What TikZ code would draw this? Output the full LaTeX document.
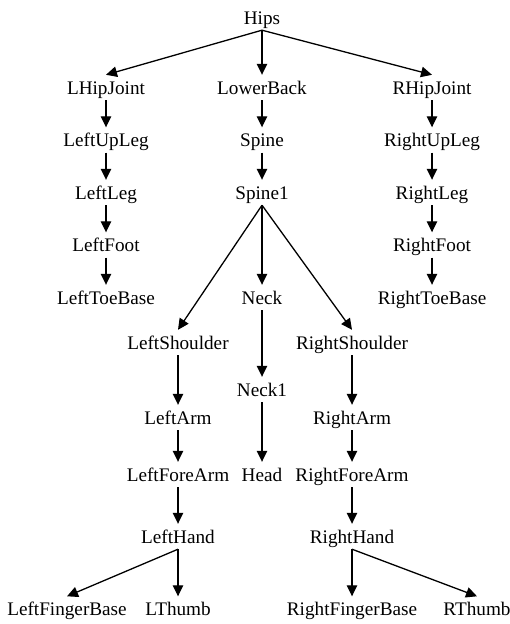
\documentclass[tikz,border=0pt]{standalone}
\usepackage{fontspec}
\setmainfont{Liberation Serif}
\usetikzlibrary{arrows.meta}

\tikzset{
  joint/.style={anchor=base, inner xsep=1pt, inner ysep=0pt,
    text height=19pt, text depth=6pt,
    font=\fontsize{19.2}{21}\selectfont},
  link/.style={line width=1.3pt,
    -{Triangle[length=11pt,width=10.5pt]}}
}

\begin{document}
\begin{tikzpicture}[x=1pt,y=-1pt]
\useasboundingbox (0,0) rectangle (510,624);

% root
\node[joint] (hips) at (262,24) {Hips};

% first level
\node[joint] (lhip)  at (106,94) {LHipJoint};
\node[joint] (lback) at (262,94) {LowerBack};
\node[joint] (rhip)  at (432,94) {RHipJoint};

% left leg
\node[joint] (lupleg) at (106,146.5) {LeftUpLeg};
\node[joint] (lleg)   at (106,199)   {LeftLeg};
\node[joint] (lfoot)  at (106,251.5) {LeftFoot};
\node[joint] (ltoe)   at (106,304)   {LeftToeBase};

% spine
\node[joint] (spine)  at (262,146.5) {Spine};
\node[joint] (spine1) at (262,199)   {Spine1};

% right leg
\node[joint] (rupleg) at (432,146.5) {RightUpLeg};
\node[joint] (rleg)   at (432,199)   {RightLeg};
\node[joint] (rfoot)  at (432,251.5) {RightFoot};
\node[joint] (rtoe)   at (432,304)   {RightToeBase};

% neck and head
\node[joint] (neck)  at (262,304) {Neck};
\node[joint] (neck1) at (262,396) {Neck1};
\node[joint] (head)  at (262,481) {Head};

% left arm
\node[joint] (lshoulder) at (178,349) {LeftShoulder};
\node[joint] (larm)      at (178,424) {LeftArm};
\node[joint] (lforearm)  at (178,481) {LeftForeArm};
\node[joint] (lhand)     at (178,543) {LeftHand};
\node[joint] (lfinger)   at (67,615.5)  {LeftFingerBase};
\node[joint] (lthumb)    at (178,615.5) {LThumb};

% right arm
\node[joint] (rshoulder) at (352,349) {RightShoulder};
\node[joint] (rarm)      at (352,424) {RightArm};
\node[joint] (rforearm)  at (352,481) {RightForeArm};
\node[joint] (rhand)     at (352,543) {RightHand};
\node[joint] (rfinger)   at (352,615.5) {RightFingerBase};
\node[joint] (rthumb)    at (477,615.5) {RThumb};

% hierarchy links
\draw[link] (hips.south) -- (lhip.north);
\draw[link] (hips.south) -- (lback.north);
\draw[link] (hips.south) -- (rhip.north);

\draw[link] (lhip.south)   -- (lupleg.north);
\draw[link] (lupleg.south) -- (lleg.north);
\draw[link] (lleg.south)   -- (lfoot.north);
\draw[link] (lfoot.south)  -- (ltoe.north);

\draw[link] (lback.south) -- (spine.north);
\draw[link] (spine.south) -- (spine1.north);

\draw[link] (rhip.south)   -- (rupleg.north);
\draw[link] (rupleg.south) -- (rleg.north);
\draw[link] (rleg.south)   -- (rfoot.north);
\draw[link] (rfoot.south)  -- (rtoe.north);

\draw[link] (spine1.south) -- (lshoulder.north);
\draw[link] (spine1.south) -- (neck.north);
\draw[link] (spine1.south) -- (rshoulder.north);

\draw[link] (neck.south)  -- (neck1.north);
\draw[link] (neck1.south) -- (head.north);

\draw[link] (lshoulder.south) -- (larm.north);
\draw[link] (larm.south)      -- (lforearm.north);
\draw[link] (lforearm.south)  -- (lhand.north);
\draw[link] (lhand.south)     -- (lfinger.north);
\draw[link] (lhand.south)     -- (lthumb.north);

\draw[link] (rshoulder.south) -- (rarm.north);
\draw[link] (rarm.south)      -- (rforearm.north);
\draw[link] (rforearm.south)  -- (rhand.north);
\draw[link] (rhand.south)     -- (rfinger.north);
\draw[link] (rhand.south)     -- (rthumb.north);
\end{tikzpicture}
\end{document}
